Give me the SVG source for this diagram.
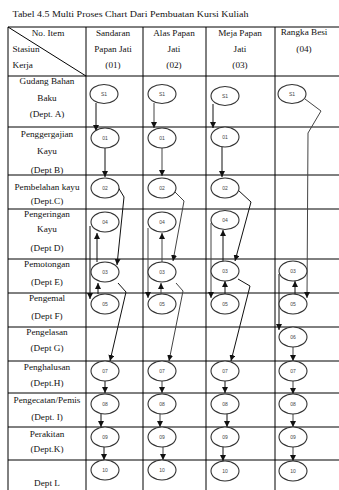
<svg xmlns="http://www.w3.org/2000/svg" width="339" height="490" viewBox="0 0 339 490">
<style>
.t{font-family:"Liberation Serif","Times New Roman",serif;font-size:9.2px;fill:#111;text-anchor:middle}
.tl{font-family:"Liberation Serif","Times New Roman",serif;font-size:9.2px;fill:#111}
.g{stroke:#000;stroke-width:1;fill:none}
.n ellipse{fill:#fff;stroke:#333;stroke-width:1.1}
.n text{font-family:"Liberation Sans",Arial,sans-serif;font-size:5px;fill:#444;text-anchor:middle}
.c{fill:none;stroke:#111;stroke-width:1;marker-end:url(#ah)}
.c2{fill:none;stroke:#444;stroke-width:1;marker-end:url(#ah)}
</style>
<defs>
<marker id="ah" markerUnits="userSpaceOnUse" markerWidth="6" markerHeight="6" refX="6" refY="3" orient="auto"><path d="M0,0 L6,3 L0,6 z" fill="#111"/></marker>
</defs>
<rect width="339" height="490" fill="#fff"/>
<text class="tl" x="12.5" y="16.5" textLength="236" lengthAdjust="spacingAndGlyphs">Tabel 4.5 Multi Proses Chart Dari Pembuatan Kursi Kuliah</text>
<g id="table">
<path class="g" d="M8,27 H339 M8,76 H339 M8,127 H339 M8,175 H339 M8,209 H339 M8,259 H339 M8,293 H339 M8,327 H339 M8,361 H339 M8,393 H339 M8,427 H339 M8,460 H339"/>
<path class="g" d="M8,27 V490 M86,27 V490 M143,27 V490 M206,27 V490 M275,27 V490"/>
<path class="g" d="M8,27 L86,76"/>
<text class="t" x="48" y="35.5">No. Item</text>
<text class="tl" x="12.5" y="52">Stasiun</text>
<text class="tl" x="12.5" y="68">Kerja</text>
<text class="t" x="113" y="35.5">Sandaran</text>
<text class="t" x="113" y="52">Papan Jati</text>
<text class="t" x="113" y="68">(01)</text>
<text class="t" x="174" y="35.5">Alas Papan</text>
<text class="t" x="174" y="52">Jati</text>
<text class="t" x="174" y="68">(02)</text>
<text class="t" x="240" y="35.5">Meja Papan</text>
<text class="t" x="240" y="52">Jati</text>
<text class="t" x="240" y="68">(03)</text>
<text class="t" x="304" y="35">Rangka Besi</text>
<text class="t" x="304" y="52">(04)</text>
<text class="t" x="47" y="84">Gudang Bahan</text>
<text class="t" x="47" y="101">Baku</text>
<text class="t" x="47" y="117">(Dept. A)</text>
<text class="t" x="47" y="137">Penggergajian</text>
<text class="t" x="47" y="154">Kayu</text>
<text class="t" x="47" y="173">(Dept B)</text>
<text class="t" x="47" y="190">Pembelahan kayu</text>
<text class="t" x="47" y="204">(Dept.C)</text>
<text class="t" x="47" y="217">Pengeringan</text>
<text class="t" x="47" y="232">Kayu</text>
<text class="t" x="47" y="251">(Dept D)</text>
<text class="t" x="47" y="267">Pemotongan</text>
<text class="t" x="47" y="285">(Dept E)</text>
<text class="t" x="47" y="301">Pengemal</text>
<text class="t" x="47" y="319">(Dept F)</text>
<text class="t" x="47" y="335">Pengelasan</text>
<text class="t" x="47" y="351">(Dept G)</text>
<text class="t" x="47" y="370">Penghalusan</text>
<text class="t" x="47" y="386">(Dept.H)</text>
<text class="t" x="47" y="403">Pengecatan/Pemis</text>
<text class="t" x="47" y="420">(Dept. I)</text>
<text class="t" x="47" y="437">Perakitan</text>
<text class="t" x="47" y="452">(Dept.K)</text>
<text class="t" x="47" y="486">Dept L</text>
</g>
<g id="connectors">
<path class="c" d="M96,103 V131"/>
<path class="c" d="M105,148 V177"/>
<path class="c" d="M118,187 L124,197 L117,265"/>
<path class="c" d="M97,262 V233"/>
<path class="c" d="M98,294 V283"/>
<path class="c" d="M90,226 V299"/>
<path class="c" d="M118,283 L126,292 L110,361"/>
<path class="c" d="M105,381 V393"/>
<path class="c" d="M101,414 V427"/>
<path class="c" d="M104,447 V460"/>
<path class="c2" d="M154,103 V128"/>
<path class="c2" d="M162,148 V176"/>
<path class="c2" d="M175,192 L184,201 L173,261"/>
<path class="c2" d="M162,262 V233"/>
<path class="c2" d="M161,294 V283"/>
<path class="c2" d="M148,228 V298"/>
<path class="c2" d="M176,283 L183,291 L169,361"/>
<path class="c2" d="M162,381 V393"/>
<path class="c2" d="M160,414 V427"/>
<path class="c2" d="M163,447 V460"/>
<path class="c" d="M213,104 V128"/>
<path class="c" d="M222,147 V177"/>
<path class="c" d="M238,190 L251,202 L235,261"/>
<path class="c" d="M223,261 V230"/>
<path class="c" d="M225,294 V281"/>
<path class="c2" d="M211,223 V298"/>
<path class="c" d="M238,279 L250,286 L231,361"/>
<path class="c" d="M225,381 V393"/>
<path class="c" d="M227,414 V427"/>
<path class="c" d="M223,447 V461"/>
<path class="c2" d="M305,99 L321,111 L308,133 L307,298"/>
<path class="c" d="M295,294 V281"/>
<path class="c" d="M279,274 V330"/>
<path class="c2" d="M293,347 V361"/>
<path class="c2" d="M293,381 V394"/>
<path class="c2" d="M293,414 V427"/>
<path class="c2" d="M293,447 V461"/>
</g>
<g id="n1-s1" class="n"><ellipse cx="104" cy="94" rx="14" ry="9.5"/><text x="104" y="95.5">S1</text></g>
<g id="n1-01" class="n"><ellipse cx="105" cy="138" rx="14" ry="10"/><text x="105" y="139.5">01</text></g>
<g id="n1-02" class="n"><ellipse cx="105" cy="188" rx="14" ry="10"/><text x="105" y="189.5">02</text></g>
<g id="n1-04" class="n"><ellipse cx="105" cy="222" rx="14" ry="10"/><text x="105" y="223.5">04</text></g>
<g id="n1-03" class="n"><ellipse cx="105" cy="272" rx="14" ry="10"/><text x="105" y="273.5">03</text></g>
<g id="n1-05" class="n"><ellipse cx="105" cy="304" rx="14" ry="10"/><text x="105" y="305.5">05</text></g>
<g id="n1-07" class="n"><ellipse cx="105" cy="371" rx="14" ry="10"/><text x="105" y="372.5">07</text></g>
<g id="n1-08" class="n"><ellipse cx="105" cy="404" rx="14" ry="10"/><text x="105" y="405.5">08</text></g>
<g id="n1-09" class="n"><ellipse cx="105" cy="437" rx="14" ry="10"/><text x="105" y="438.5">09</text></g>
<g id="n1-10" class="n"><ellipse cx="105" cy="470" rx="14" ry="10"/><text x="105" y="471.5">10</text></g>
<g id="n2-s1" class="n"><ellipse cx="162" cy="94" rx="14" ry="9.5"/><text x="162" y="95.5">S1</text></g>
<g id="n2-01" class="n"><ellipse cx="162" cy="138" rx="14" ry="10"/><text x="162" y="139.5">01</text></g>
<g id="n2-02" class="n"><ellipse cx="162" cy="188" rx="14" ry="10"/><text x="162" y="189.5">02</text></g>
<g id="n2-04" class="n"><ellipse cx="162" cy="222" rx="14" ry="10"/><text x="162" y="223.5">04</text></g>
<g id="n2-03" class="n"><ellipse cx="162" cy="272" rx="14" ry="10"/><text x="162" y="273.5">03</text></g>
<g id="n2-05" class="n"><ellipse cx="162" cy="304" rx="14" ry="10"/><text x="162" y="305.5">05</text></g>
<g id="n2-07" class="n"><ellipse cx="162" cy="371" rx="14" ry="10"/><text x="162" y="372.5">07</text></g>
<g id="n2-08" class="n"><ellipse cx="162" cy="404" rx="14" ry="10"/><text x="162" y="405.5">08</text></g>
<g id="n2-09" class="n"><ellipse cx="162" cy="437" rx="14" ry="10"/><text x="162" y="438.5">09</text></g>
<g id="n2-10" class="n"><ellipse cx="162" cy="470" rx="14" ry="10"/><text x="162" y="471.5">10</text></g>
<g id="n3-s1" class="n"><ellipse cx="225" cy="96" rx="14" ry="9.5"/><text x="225" y="97.5">S1</text></g>
<g id="n3-01" class="n"><ellipse cx="225" cy="137" rx="14" ry="10"/><text x="225" y="138.5">01</text></g>
<g id="n3-02" class="n"><ellipse cx="225" cy="188" rx="14" ry="10"/><text x="225" y="189.5">02</text></g>
<g id="n3-04" class="n"><ellipse cx="225" cy="220" rx="14" ry="9.5"/><text x="225" y="221.5">04</text></g>
<g id="n3-03" class="n"><ellipse cx="225" cy="271" rx="14" ry="10"/><text x="225" y="272.5">03</text></g>
<g id="n3-05" class="n"><ellipse cx="225" cy="304" rx="14" ry="10"/><text x="225" y="305.5">05</text></g>
<g id="n3-07" class="n"><ellipse cx="225" cy="371" rx="14" ry="10"/><text x="225" y="372.5">07</text></g>
<g id="n3-08" class="n"><ellipse cx="225" cy="404" rx="14" ry="10"/><text x="225" y="405.5">08</text></g>
<g id="n3-09" class="n"><ellipse cx="225" cy="437" rx="14" ry="10"/><text x="225" y="438.5">09</text></g>
<g id="n3-10" class="n"><ellipse cx="225" cy="471" rx="14" ry="10"/><text x="225" y="472.5">10</text></g>
<g id="n4-s1" class="n"><ellipse cx="292" cy="94" rx="14" ry="9.5"/><text x="292" y="95.5">S1</text></g>
<g id="n4-03" class="n"><ellipse cx="293" cy="271" rx="14" ry="10"/><text x="293" y="272.5">03</text></g>
<g id="n4-05" class="n"><ellipse cx="293" cy="304" rx="14" ry="10"/><text x="293" y="305.5">05</text></g>
<g id="n4-06" class="n"><ellipse cx="293" cy="337" rx="14" ry="10"/><text x="293" y="338.5">06</text></g>
<g id="n4-07" class="n"><ellipse cx="293" cy="371" rx="14" ry="10"/><text x="293" y="372.5">07</text></g>
<g id="n4-08" class="n"><ellipse cx="293" cy="404" rx="14" ry="10"/><text x="293" y="405.5">08</text></g>
<g id="n4-09" class="n"><ellipse cx="293" cy="437" rx="14" ry="10"/><text x="293" y="438.5">09</text></g>
<g id="n4-10" class="n"><ellipse cx="293" cy="471" rx="14" ry="10"/><text x="293" y="472.5">10</text></g>
</svg>
